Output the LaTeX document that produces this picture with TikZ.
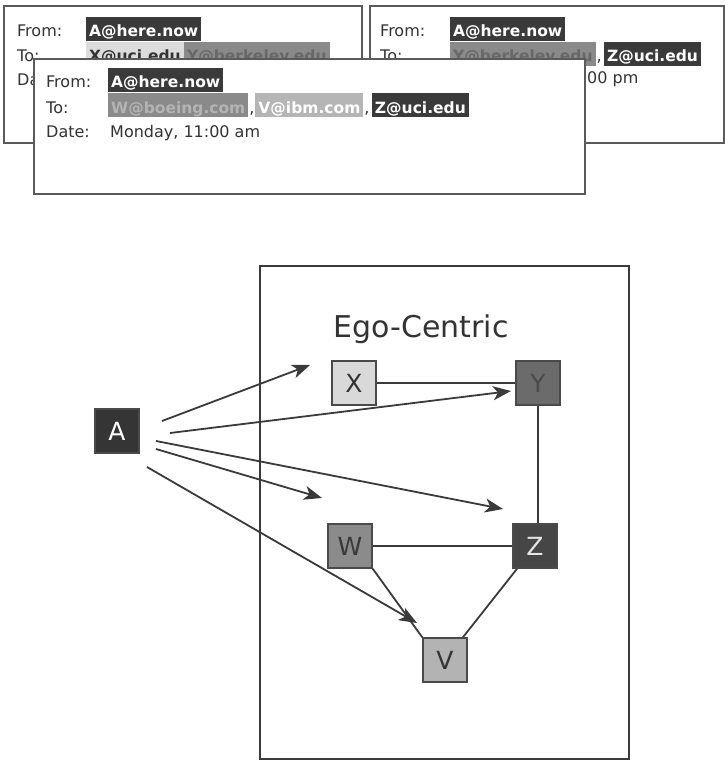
\documentclass[tikz,border=0pt]{standalone}
\usepackage{fontspec}
\usetikzlibrary{arrows.meta}
\newfontfamily\dv{DejaVu Sans}
\newcommand\emailfont{\dv\fontsize{16}{18}\selectfont}
\newcommand\emailbold{\dv\bfseries\fontsize{15.5}{18}\selectfont}
\newcommand\sqfont{\dv\fontsize{25}{25}\selectfont}
\newcommand\egofont{\dv\fontsize{30}{30}\selectfont}
\definecolor{boxgray}{HTML}{5A5A5A}
\definecolor{labelgray}{HTML}{333333}
\definecolor{hdark}{HTML}{3A3A3A}
\definecolor{hmid}{HTML}{8A8A8A}
\definecolor{hmidtext}{HTML}{B4B4B4}
\definecolor{hlight}{HTML}{B5B5B5}
\definecolor{hpale}{HTML}{DCDCDC}
\definecolor{edgegray}{HTML}{3A3A3A}
\definecolor{nodeedge}{HTML}{4A4A4A}
\definecolor{fA}{HTML}{353535}
\definecolor{fX}{HTML}{D9D9D9}
\definecolor{fY}{HTML}{6B6B6B}
\definecolor{tY}{HTML}{4A4A4A}
\definecolor{fZ}{HTML}{464646}
\definecolor{fW}{HTML}{8B8B8B}
\definecolor{fV}{HTML}{B3B3B3}
\begin{document}
\begin{tikzpicture}[x=1pt,y=-1pt,
  mailbox/.style={draw=boxgray, line width=2.2pt, fill=white, anchor=north west, inner sep=0pt},
  lbl/.style={font=\emailfont, text=labelgray, inner sep=0pt, anchor=base west},
  comma/.style={lbl, inner xsep=0.6pt},
  hl/.style={font=\emailbold, inner xsep=3pt, inner ysep=0pt, text height=20pt, text depth=4pt, anchor=base west},
  hldark/.style={hl, fill=hdark, text=white},
  hlmid/.style={hl, fill=hmid, text=hmidtext},
  hllight/.style={hl, fill=hlight, text=white},
  hlpale/.style={hl, fill=hpale, text=labelgray},
  sq/.style={draw=nodeedge, line width=1.5pt, minimum size=44pt, inner sep=0pt, font=\sqfont},
  edge/.style={draw=edgegray, line width=1.8pt},
  arr/.style={edge, -{Stealth[length=18pt,width=14pt,inset=5pt]}},
  frame/.style={draw=edgegray, line width=2pt, anchor=north west, inner sep=0pt}
]
\fill[white] (0,0) rectangle (724,760);
\useasboundingbox (0,0) rectangle (724,760);

% ---- back left e-mail
\node[mailbox, minimum width=358pt, minimum height=137pt] (m1) at (3,5) {};
\node[lbl] (m1from) at (17,37) {From:};
\node[hldark] (m1a) at (86,37) {A@here.now};
\node[lbl] (m1to) at (17,62) {To:};
\node[hlpale] (m1x) at (86,62) {X@uci.edu};
\node[hlmid, text=hmid!75!black] (m1y) at (m1x.base east) {Y@berkeley.edu};
\node[lbl] (m1da) at (17,85) {Da};

% ---- back right e-mail
\node[mailbox, minimum width=354pt, minimum height=137pt] (m2) at (369,5) {};
\node[lbl] (m2from) at (380,37) {From:};
\node[hldark] (m2a) at (450,37) {A@here.now};
\node[lbl] (m2to) at (380,62) {To:};
\node[hlmid, text=hmid!75!black] (m2y) at (450,62) {Y@berkeley.edu};
\node[comma] (m2c) at (m2y.base east) {,};
\node[hldark] (m2z) at ([xshift=1.5pt]m2c.base east) {Z@uci.edu};
\node[lbl] (m2date) at (587,84) {00 pm};

% ---- front e-mail
\node[mailbox, minimum width=551pt, minimum height=135pt] (m3) at (33,58) {};
\node[lbl] (m3from) at (46,88) {From:};
\node[hldark] (m3a) at (108,88) {A@here.now};
\node[lbl] (m3to) at (46,113) {To:};
\node[hlmid] (m3w) at (108,113) {W@boeing.com};
\node[comma] (m3c1) at (m3w.base east) {,};
\node[hllight] (m3v) at (m3c1.base east) {V@ibm.com};
\node[comma] (m3c2) at (m3v.base east) {,};
\node[hldark] (m3z) at ([xshift=1.5pt]m3c2.base east) {Z@uci.edu};
\node[lbl] (m3datel) at (46,137) {Date:};
\node[lbl] (m3date) at (110,137) {Monday, 11:00 am};

% ---- ego-centric frame
\node[frame, minimum width=369pt, minimum height=493pt] (ego) at (259,265) {};
\node[font=\egofont, text=labelgray, anchor=base, inner sep=0pt] (egot) at (421,337) {Ego-Centric};

% ---- nodes
\node[sq, fill=fA, text=white] (A) at (117,431) {A};
\node[sq, fill=fX, text=labelgray] (X) at (354,383) {X};
\node[sq, fill=fY, text=tY] (Y) at (538,383) {Y};
\node[sq, fill=fZ, text=white!90!black] (Z) at (535,546) {Z};
\node[sq, fill=fW, text=hdark] (W) at (350,546) {W};
\node[sq, fill=fV, text=labelgray] (V) at (445,660) {V};

% ---- undirected links
\draw[edge] (X) -- (Y);
\draw[edge] (Y.south) -- (Y.south |- Z.north);
\draw[edge] (W) -- (Z);
\draw[edge] (W.south east) -- (V.north west);
\draw[edge] (Z) -- (V);

% ---- messages from A
\coordinate (a1s) at (162,421); \coordinate (a1e) at (310,365);
\coordinate (a2s) at (170,433); \coordinate (a2e) at (511,391);
\coordinate (a3s) at (156,441); \coordinate (a3e) at (503,509);
\coordinate (a4s) at (156,449); \coordinate (a4e) at (322,498);
\coordinate (a5s) at (147,467); \coordinate (a5e) at (417,623);
\draw[arr] (a1s) -- (a1e);
\draw[arr] (a2s) -- (a2e);
\draw[arr] (a3s) -- (a3e);
\draw[arr] (a4s) -- (a4e);
\draw[arr] (a5s) -- (a5e);
\end{tikzpicture}
\end{document}
